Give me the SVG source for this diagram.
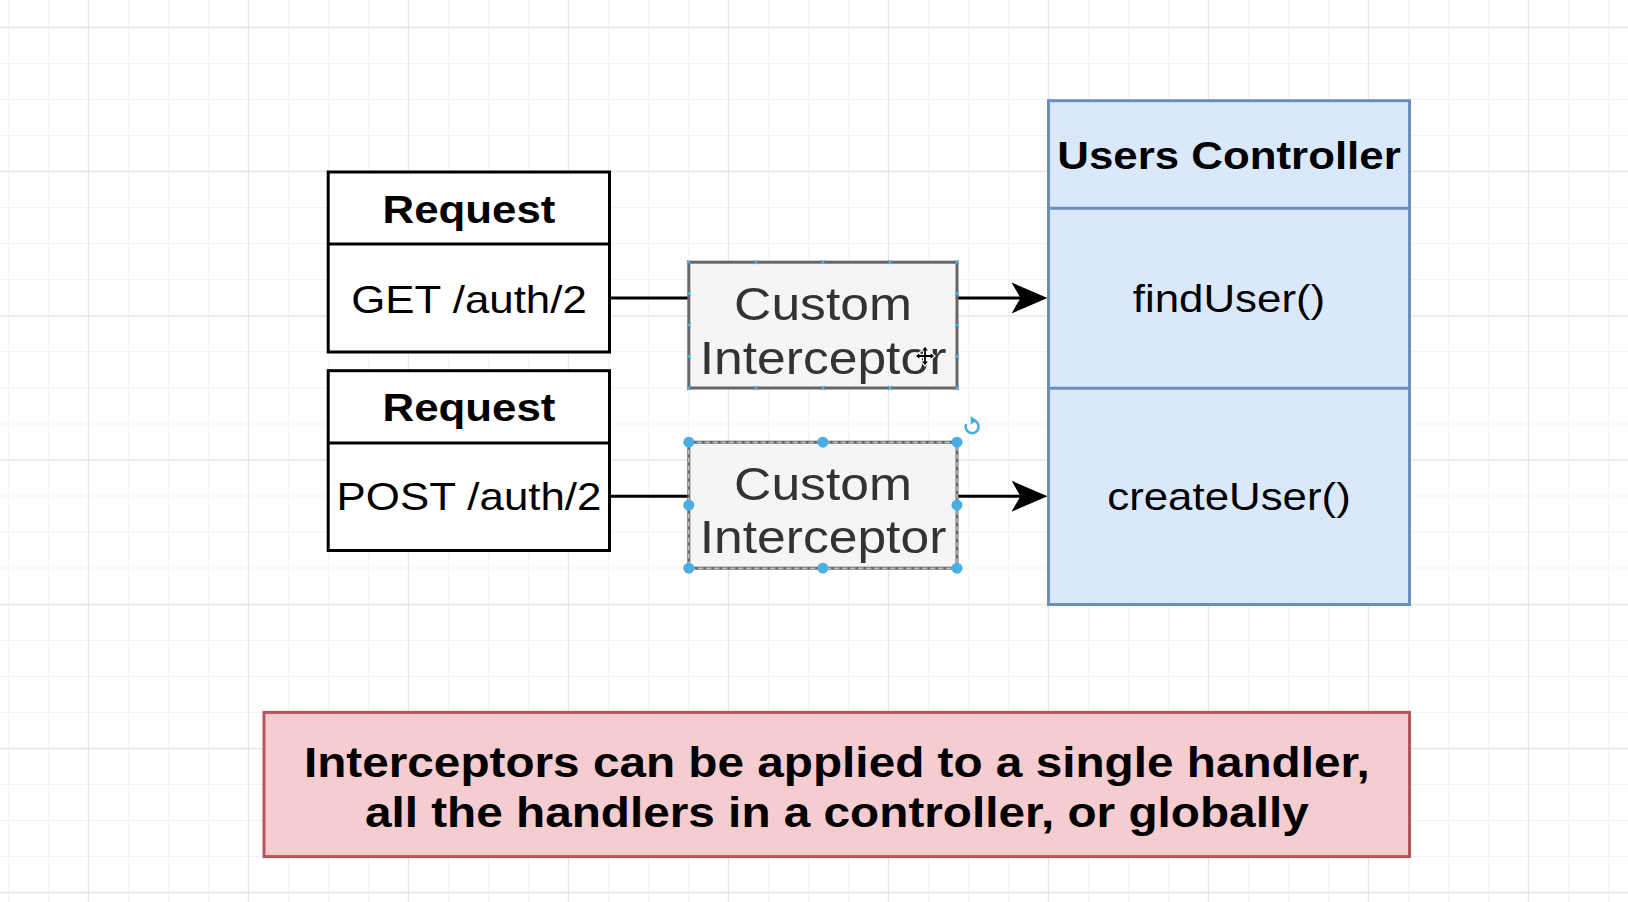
<svg xmlns="http://www.w3.org/2000/svg" width="1628" height="902" viewBox="0 0 1628 902">
<defs>
<style>
.gmin{stroke:#f3f3f3;stroke-width:1;fill:none}
.gmaj{stroke:#e6e6e6;stroke-width:1.3;fill:none}
.req{fill:#ffffff;stroke:#000000;stroke-width:3}
.ic{fill:#f5f5f5;stroke:#666666;stroke-width:3}
.ctl{fill:#dae8fc;stroke:#6c8ebf;stroke-width:3}
.note{fill:#f5ccd0;stroke:#b5565c;stroke-width:3}
.edge{stroke:#000000;stroke-width:3;fill:none}
.t{font-family:"Liberation Sans",Arial,Helvetica,sans-serif;text-anchor:middle;fill:#000000}
.b{font-weight:bold}
.s39{font-size:39.5px}
.s45{font-size:46.5px;fill:#333333}
.s43{font-size:43px}
.cp{stroke:#5aaee0;stroke-width:1.2;fill:none}
.h{fill:#4aaee3}
</style>
<marker id="arrow" viewBox="0 0 36 31" refX="28" refY="15.5" markerWidth="36" markerHeight="31" markerUnits="userSpaceOnUse" orient="auto">
<path d="M0,0 L36,15.5 L0,31 L9,15.5 Z" fill="#000000"/>
</marker>
</defs>
<rect width="1628" height="902" fill="#ffffff"/>
<g id="grid">
<path class="gmin" d="M8.5 0V902M48.5 0V902M128.5 0V902M168.5 0V902M208.5 0V902M288.5 0V902M328.5 0V902M368.5 0V902M448.5 0V902M488.5 0V902M528.5 0V902M608.5 0V902M648.5 0V902M688.5 0V902M768.5 0V902M808.5 0V902M848.5 0V902M928.5 0V902M968.5 0V902M1008.5 0V902M1088.5 0V902M1128.5 0V902M1168.5 0V902M1248.5 0V902M1288.5 0V902M1328.5 0V902M1408.5 0V902M1448.5 0V902M1488.5 0V902M1568.5 0V902M1608.5 0V902
M0 63.5H1628M0 99.5H1628M0 135.5H1628M0 207.5H1628M0 243.5H1628M0 279.5H1628M0 351.5H1628M0 388H1628M0 424H1628M0 496H1628M0 532H1628M0 568H1628M0 640.5H1628M0 676.5H1628M0 712.5H1628M0 784.5H1628M0 820.5H1628M0 856.5H1628"/>
<path class="gmaj" d="M88.5 0V902M248.5 0V902M408.5 0V902M568.5 0V902M728.5 0V902M888.5 0V902M1048.5 0V902M1208.5 0V902M1368.5 0V902M1528.5 0V902
M0 27.5H1628M0 171.5H1628M0 316H1628M0 460H1628M0 604.5H1628M0 748.5H1628M0 892.5H1628"/>
</g>
<g id="connectors">
<line class="edge" x1="611" y1="298" x2="688" y2="298"/>
<line class="edge" x1="611" y1="496.2" x2="688" y2="496.2"/>
<line class="edge" x1="958" y1="298" x2="1039.5" y2="298" marker-end="url(#arrow)"/>
<line class="edge" x1="958" y1="496.2" x2="1039.5" y2="496.2" marker-end="url(#arrow)"/>
</g>
<g id="request-get">
<rect class="req" x="328.2" y="172" width="281.3" height="180"/>
<line class="req" x1="328.2" y1="244" x2="609.5" y2="244"/>
<text class="t b s39" transform="translate(469,222.7) scale(1.11,1)">Request</text>
<text class="t s39" transform="translate(469,312.8) scale(1.11,1)">GET /auth/2</text>
</g>
<g id="request-post">
<rect class="req" x="328.2" y="370.7" width="281.3" height="179.8"/>
<line class="req" x1="328.2" y1="443" x2="609.5" y2="443"/>
<text class="t b s39" transform="translate(469,420.5) scale(1.11,1)">Request</text>
<text class="t s39" transform="translate(469,510.3) scale(1.11,1)">POST /auth/2</text>
</g>
<g id="interceptor-1">
<rect class="ic" x="688.8" y="262.2" width="268.2" height="125.8"/>
<text class="t s45" transform="translate(823,320) scale(1.11,1)">Custom</text>
<text class="t s45" transform="translate(823,374) scale(1.11,1)">Interceptor</text>
<path class="cp" d="M686.8 260.2l4 4m0-4l-4 4M754 260.2l4 4m0-4l-4 4M821 260.2l4 4m0-4l-4 4M888 260.2l4 4m0-4l-4 4M955 260.2l4 4m0-4l-4 4
M686.8 386l4 4m0-4l-4 4M754 386l4 4m0-4l-4 4M821 386l4 4m0-4l-4 4M888 386l4 4m0-4l-4 4M955 386l4 4m0-4l-4 4
M686.8 291.5l4 4m0-4l-4 4M686.8 323l4 4m0-4l-4 4M686.8 354.5l4 4m0-4l-4 4
M955 291.5l4 4m0-4l-4 4M955 323l4 4m0-4l-4 4M955 354.5l4 4m0-4l-4 4"/>
<g transform="translate(925,356)">
<path d="M0,-10 L4,-5 L1.5,-5 L1.5,-1.5 L5,-1.5 L5,-4 L10,0 L5,4 L5,1.5 L1.5,1.5 L1.5,5 L4,5 L0,10 L-4,5 L-1.5,5 L-1.5,1.5 L-5,1.5 L-5,4 L-10,0 L-5,-4 L-5,-1.5 L-1.5,-1.5 L-1.5,-5 L-4,-5 Z" fill="#000000" stroke="#ffffff" stroke-width="1.2"/>
</g>
</g>
<g id="interceptor-2">
<rect class="ic" x="688.8" y="442.2" width="268.2" height="126"/>
<rect x="688.8" y="442.2" width="268.2" height="126" fill="none" stroke="#ffffff" stroke-width="1" stroke-dasharray="5 3" opacity="0.85"/>
<text class="t s45" transform="translate(823,500) scale(1.11,1)">Custom</text>
<text class="t s45" transform="translate(823,552.5) scale(1.11,1)">Interceptor</text>
<circle class="h" cx="688.8" cy="442.2" r="5.5"/>
<circle class="h" cx="822.9" cy="442.2" r="5.5"/>
<circle class="h" cx="957" cy="442.2" r="5.5"/>
<circle class="h" cx="688.8" cy="505.2" r="5.5"/>
<circle class="h" cx="957" cy="505.2" r="5.5"/>
<circle class="h" cx="688.8" cy="568.2" r="5.5"/>
<circle class="h" cx="822.9" cy="568.2" r="5.5"/>
<circle class="h" cx="957" cy="568.2" r="5.5"/>
<path d="M966.2 424 A6.5 6.5 0 1 0 973 420.2" fill="none" stroke="#4aaee3" stroke-width="2.6"/>
<path d="M970.5 416 L977 420.5 L970.8 424.5 Z" fill="#4aaee3"/>
</g>
<g id="users-controller">
<rect class="ctl" x="1048.5" y="100.7" width="361" height="503.8"/>
<line class="ctl" x1="1048.5" y1="208.3" x2="1409.5" y2="208.3"/>
<line class="ctl" x1="1048.5" y1="388.3" x2="1409.5" y2="388.3"/>
<text class="t b s39" transform="translate(1229,168.6) scale(1.11,1)">Users Controller</text>
<text class="t s39" transform="translate(1229,312.4) scale(1.11,1)">findUser()</text>
<text class="t s39" transform="translate(1229,510.2) scale(1.11,1)">createUser()</text>
</g>
<g id="note">
<rect class="note" x="264" y="712.4" width="1145.5" height="144.2"/>
<text class="t b s43" transform="translate(836.8,777.3) scale(1.11,1)">Interceptors can be applied to a single handler,</text>
<text class="t b s43" transform="translate(836.8,827) scale(1.11,1)">all the handlers in a controller, or globally</text>
</g>
</svg>
